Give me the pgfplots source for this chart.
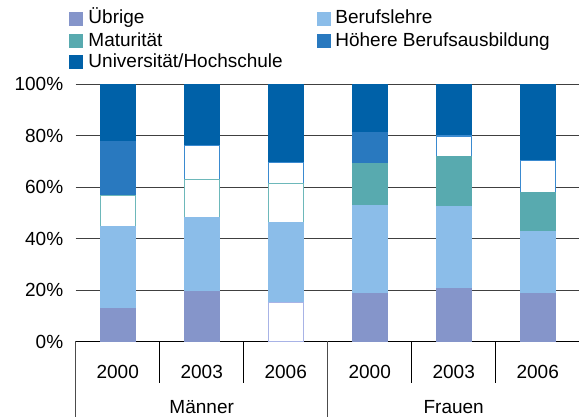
\documentclass[border=0pt]{standalone}
\usepackage{pgfplots}
\pgfplotsset{compat=1.18}
\usepackage{fontspec}
\setmainfont{Liberation Sans}
\definecolor{cUeb}{HTML}{8595CA}
\definecolor{cBer}{HTML}{8BBDE9}
\definecolor{cMat}{HTML}{58AAAF}
\definecolor{cHoe}{HTML}{2979BF}
\definecolor{cUni}{HTML}{0061A8}
\definecolor{bMat}{HTML}{6DB8BA}
\definecolor{bHoe}{HTML}{3A8AD0}
\definecolor{bUeb}{HTML}{A8B3E6}
\begin{document}
\begin{tikzpicture}[font=\fontsize{19}{22}\selectfont]
\begin{axis}[
  scale only axis, width=504pt, height=257.2pt,
  xmin=-0.5, xmax=5.5, ymin=0, ymax=100,
  clip=false,
  axis x line*=bottom, axis y line*=left,
  y axis line style={draw=none},
  x axis line style={black, line width=0.9pt},
  ytick={0,20,40,60,80,100},
  yticklabels={0\%,20\%,40\%,60\%,80\%,100\%},
  xtick={0,1,2,3,4,5},
  xticklabels={2000,2003,2006,2000,2003,2006},
  major tick length=0pt,
  ymajorgrids, grid style={black!75, line width=0.8pt},
  tick label style={font=\fontsize{19}{22}\selectfont},
  yticklabel style={xshift=-9pt},
  xticklabel style={anchor=base, yshift=-36.8pt},
  bar width=0.415,
  every axis plot/.append style={ybar, bar shift=0pt, line width=1.1pt},
]
% cumulative top of each layer (percent)
% Universitaet/Hochschule (top = 100)
\addplot[fill=cUni, draw=cUni] coordinates {(0,100) (1,100) (2,100) (3,100) (4,100) (5,100)};
% Hoehere Berufsausbildung
\addplot[fill=cHoe, draw=cHoe] coordinates {(0,77.6) (3,81.4)};
\addplot[fill=white, draw=bHoe] coordinates {(1,76.2) (2,69.6) (4,79.9) (5,70.5)};
% Maturitaet
\addplot[fill=cMat, draw=cMat] coordinates {(3,69.3) (4,72.1) (5,57.8)};
\addplot[fill=white, draw=bMat] coordinates {(0,56.8) (1,63.0) (2,61.3)};
% Berufslehre
\addplot[fill=cBer, draw=cBer] coordinates {(0,44.5) (1,48.2) (2,46.1) (3,53.0) (4,52.5) (5,42.7)};
% Uebrige
\addplot[fill=cUeb, draw=cUeb] coordinates {(0,13.0) (1,19.6) (3,18.6) (4,20.6) (5,18.8)};
\addplot[fill=white, draw=bUeb] coordinates {(2,15.1)};
% category separators
\draw[black, line width=0.8pt] (axis cs:0.5,0) -- ++(0pt,-41.5pt);
\draw[black, line width=0.8pt] (axis cs:1.5,0) -- ++(0pt,-41.5pt);
\draw[black, line width=0.8pt] (axis cs:3.5,0) -- ++(0pt,-41.5pt);
\draw[black, line width=0.8pt] (axis cs:4.5,0) -- ++(0pt,-41.5pt);
\draw[black!70, line width=1pt] (axis cs:-0.5,0) -- ++(0pt,-80pt);
\draw[black!70, line width=1pt] (axis cs:2.5,0) -- ++(0pt,-80pt);
\draw[black!70, line width=1pt] (axis cs:5.5,0) -- ++(0pt,-80pt);
\node[anchor=base, inner sep=0.5pt] at ([yshift=-72.3pt]axis cs:1,0) {Männer};
\node[anchor=base, inner sep=0.5pt] at ([yshift=-72.3pt]axis cs:4,0) {Frauen};
\end{axis}
% legend
\fill[cUeb] (-6.7pt,315.6pt) rectangle ++(13.7pt,13.7pt);
\fill[cMat] (-6.7pt,293.9pt) rectangle ++(13.7pt,13.7pt);
\fill[cUni] (-6.7pt,272.9pt) rectangle ++(13.7pt,13.7pt);
\fill[cBer] (241.3pt,315.6pt) rectangle ++(13.7pt,13.7pt);
\fill[cHoe] (241.3pt,293.9pt) rectangle ++(13.7pt,13.7pt);
\node[anchor=base west, inner sep=0pt] at (12.6pt,317.5pt) {Übrige};
\node[anchor=base west, inner sep=0pt] at (12.6pt,294.8pt) {Maturität};
\node[anchor=base west, inner sep=0pt] at (12.6pt,274.2pt) {Universität/Hochschule};
\node[anchor=base west, inner sep=0pt] at (259.5pt,317.5pt) {Berufslehre};
\node[anchor=base west, inner sep=0pt] at (259.5pt,294.8pt) {Höhere Berufsausbildung};
\pgfresetboundingbox
\useasboundingbox (-75.7pt,-75.5pt) rectangle (503.3pt,341.5pt);
\end{tikzpicture}
\end{document}
